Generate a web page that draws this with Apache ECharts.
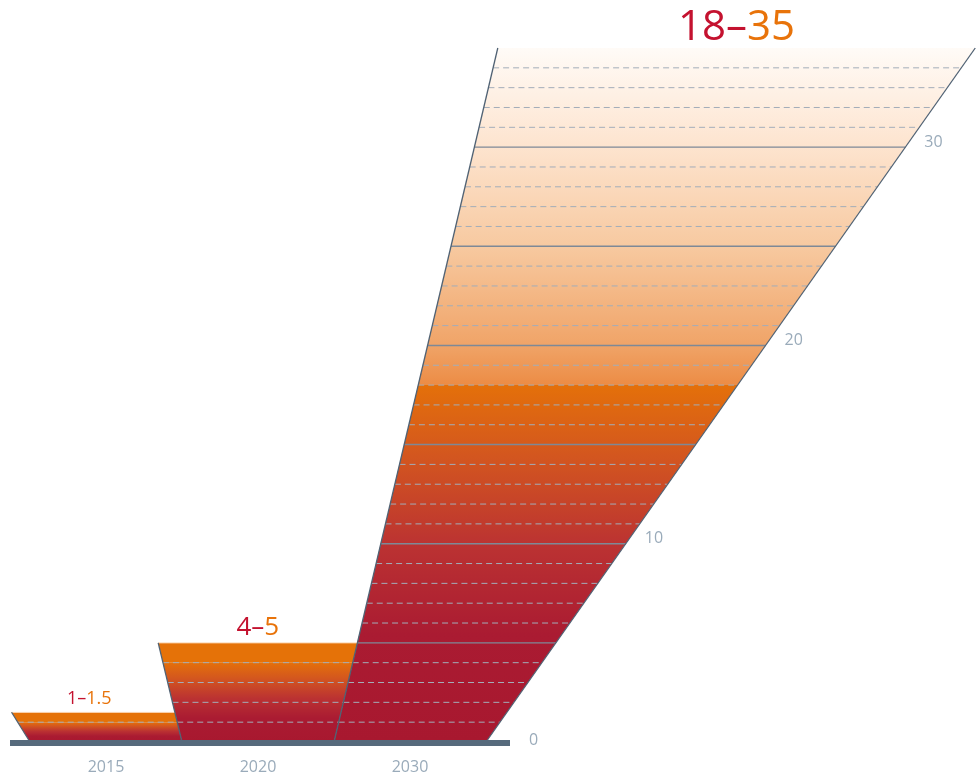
<!DOCTYPE html>
<html>
<head>
<meta charset="utf-8">
<script src="https://cdn.jsdelivr.net/npm/echarts@6/dist/echarts.min.js"></script>
<style>
  html, body { margin: 0; padding: 0; background: #fff; }
  #chart { width: 976px; height: 776px; }
</style>
</head>
<body>
<div id="chart"></div>
<script>
const categories = ['2015', '2020', '2030'];
const lowValues = [1, 4, 18];
const highValues = [1.5, 5, 35];
const yTicks = [0, 10, 20, 30];

// how far each edge between the shapes leans sideways (px per px of height), left to right
const edgeLean = [-0.62, -0.24, 0.236, 0.705];
const labelSizes = [18, 26, 42];
const labelShift = [-4, 0, 0];

const RED = '#c4122f';
const ORANGE = '#e8730a';
const AXIS_GREY = '#9aabba';
const FONT = '"Open Sans", "Noto Sans", sans-serif';

// lower part: red at the bottom, orange at the low estimate
const lowerStops = [
  { offset: 0, color: '#e4700a' },
  { offset: 0.2, color: '#d3561f' },
  { offset: 0.45, color: '#bb3232' },
  { offset: 0.7, color: '#aa1b32' },
  { offset: 1, color: '#a8182f' }
];
// upper part (low estimate -> high estimate)
const upperStops = [
  [{ offset: 0, color: '#e57208' }, { offset: 1, color: '#e57208' }],
  [{ offset: 0, color: '#e57208' }, { offset: 1, color: '#e57208' }],
  [
    { offset: 0, color: '#fffbf7' },
    { offset: 0.29, color: '#fde4cf' },
    { offset: 0.59, color: '#f7c9a0' },
    { offset: 0.88, color: '#f0a468' },
    { offset: 1, color: '#ec8c45' }
  ]
];

const chart = echarts.init(document.getElementById('chart'));

function shapeItem(params, api) {
  const i = params.dataIndex;
  const low = api.value(1);
  const high = api.value(2);
  const base = api.coord([i, 0]);
  const bw = api.size([1, 0])[0];
  const y0 = base[1];
  const bx = [base[0] - bw / 2, base[0] + bw / 2];
  const edge = (k, y) => bx[k] + edgeLean[i + k] * (y0 - y);
  const yLow = api.coord([i, low])[1];
  const yTop = api.coord([i, high])[1];
  const poly = (ya, yb) => [[edge(0, ya), ya], [edge(1, ya), ya], [edge(1, yb), yb], [edge(0, yb), yb]];

  const children = [
    {
      type: 'polygon',
      shape: { points: poly(y0, yLow) },
      style: { fill: new echarts.graphic.LinearGradient(0, 0, 0, 1, lowerStops) }
    },
    {
      type: 'polygon',
      shape: { points: poly(yLow, yTop) },
      style: { fill: new echarts.graphic.LinearGradient(0, 0, 0, 1, upperStops[i]) }
    }
  ];

  // grid lines inside the shape
  for (let v = 1; v < high; v++) {
    const y = api.coord([i, v])[1];
    const major = v % 5 === 0;
    children.push({
      type: 'line',
      shape: { x1: edge(0, y), y1: y, x2: edge(1, y), y2: y },
      style: major
        ? { stroke: '#7e8997', lineWidth: 1.4 }
        : { stroke: '#a3adb9', lineWidth: 1, lineDash: [6, 4] }
    });
  }

  if (i < categories.length - 1) {
    children.push({
      type: 'line',
      shape: { x1: edge(0, yTop), y1: yTop, x2: edge(1, yTop), y2: yTop },
      style: { stroke: 'rgba(255,236,220,0.9)', lineWidth: 1 }
    });
  }

  // left edge, plus right edge of the last one
  children.push({
    type: 'line',
    shape: { x1: edge(0, y0), y1: y0, x2: edge(0, yTop), y2: yTop },
    style: { stroke: '#506274', lineWidth: 1.3 }
  });
  if (i === categories.length - 1) {
    children.push({
      type: 'line',
      shape: { x1: edge(1, y0), y1: y0, x2: edge(1, yTop), y2: yTop },
      style: { stroke: '#506274', lineWidth: 1.3 }
    });
  }

  const size = labelSizes[i];
  children.push({
    type: 'text',
    x: (edge(0, yTop) + edge(1, yTop)) / 2 + labelShift[i],
    y: yTop - 8 + size * 0.22,
    style: {
      text: '{lo|' + low + '–}{hi|' + high + '}',
      align: 'center',
      verticalAlign: 'bottom',
      rich: {
        lo: { fill: RED, fontSize: size, fontFamily: FONT, lineHeight: size },
        hi: { fill: ORANGE, fontSize: size, fontFamily: FONT, lineHeight: size }
      }
    }
  });

  return { type: 'group', children: children };
}

function baselineItem(params, api) {
  const last = categories.length - 1;
  const bw = api.size([1, 0])[0];
  const a = api.coord([0, 0]);
  const b = api.coord([last, 0]);
  const x1 = a[0] - bw / 2 - 20;
  const x2 = b[0] + bw / 2 + 24;
  return {
    type: 'rect',
    shape: { x: x1, y: a[1] - 2, width: x2 - x1, height: 6 },
    style: { fill: '#566a7c' }
  };
}

function tickItem(params, api) {
  const last = categories.length - 1;
  const v = api.value(1);
  const bw = api.size([1, 0])[0];
  const base = api.coord([last, 0]);
  const y = api.coord([last, v])[1];
  const rightBottom = base[0] + bw / 2;
  const edgeX = rightBottom + edgeLean[last + 1] * (base[1] - y);
  const x = Math.max(edgeX, rightBottom + 24) + 19;
  return {
    type: 'text',
    x: x,
    y: v === 0 ? y - 2 : y - 5,
    style: {
      text: String(v),
      fill: AXIS_GREY,
      fontSize: 16,
      fontFamily: FONT,
      align: 'left',
      verticalAlign: 'middle'
    }
  };
}

const option = {
  animation: false,
  backgroundColor: '#fff',
  grid: { left: 30, right: 490, top: 48, bottom: 34 },
  xAxis: {
    type: 'category',
    data: categories,
    axisLine: { show: false },
    axisTick: { show: false },
    axisLabel: { color: AXIS_GREY, fontSize: 16, fontFamily: FONT, margin: 17 }
  },
  yAxis: {
    type: 'value',
    min: 0,
    max: 35,
    show: false
  },
  series: [
    {
      type: 'custom',
      z: 2,
      renderItem: shapeItem,
      encode: { x: 0, y: [1, 2] },
      data: categories.map((c, i) => [i, lowValues[i], highValues[i]])
    },
    {
      type: 'custom',
      z: 3,
      renderItem: baselineItem,
      encode: { x: 0, y: 1 },
      data: [[0, 0]]
    },
    {
      type: 'custom',
      z: 4,
      renderItem: tickItem,
      encode: { x: 0, y: 1 },
      data: yTicks.map(v => [categories.length - 1, v])
    }
  ]
};

chart.setOption(option);
</script>
</body>
</html>
